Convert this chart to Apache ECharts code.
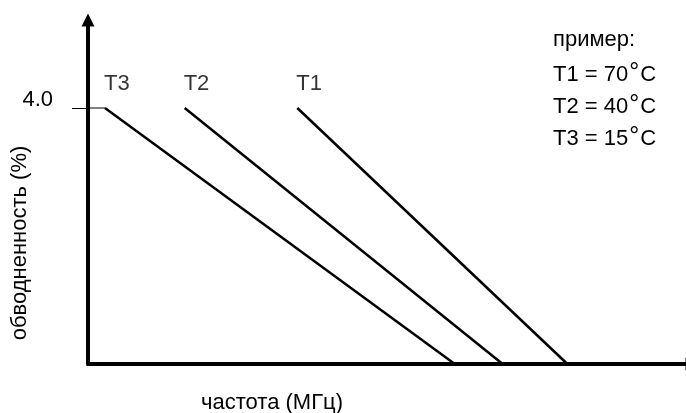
<!DOCTYPE html>
<html>
<head>
<meta charset="utf-8">
<script src="https://cdn.jsdelivr.net/npm/echarts@6/dist/echarts.min.js"></script>
<style>html,body{margin:0;padding:0;background:#fff}#c{width:686px;height:413px}</style>
</head>
<body>
<div id="c"></div>
<script>
// Data (frequency in arbitrary units, water cut %)
var seriesNames = ['T1', 'T2', 'T3'];
var t1Points = [[21.0, 4], [48.1, 0]];
var t2Points = [[9.7, 4], [41.6, 0]];
var t3Points = [[1.7, 4], [36.8, 0]];
var t3Plateau = [[0, 4], [1.7, 4]];
var yTickValues = [4];
var yTickLabels = ['4.0'];
var legendTitle = 'пример:';
var legendNames = ['T1', 'T2', 'T3'];
var legendTemps = ['70', '40', '15'];
var xTitle = 'частота (МГц)';
var yTitle = 'обводненность (%)';

var FONT = 'Liberation Sans, Arial, sans-serif';
var FS = 22;

var chart = echarts.init(document.getElementById('c'), null, {renderer: 'canvas'});

function lineSeries(name, data, width) {
  return {
    name: name, type: 'line', data: data, showSymbol: false, symbol: 'none',
    lineStyle: {color: '#000', width: width}, silent: true, animation: false, z: 3
  };
}

var labelData = [
  {name: 'T3', value: t3Points[0]},
  {name: 'T2', value: t2Points[0]},
  {name: 'T1', value: t1Points[0]}
];

var legendGraphics = [{
  type: 'text', left: 553, top: 29,
  style: {text: legendTitle, font: FS + 'px ' + FONT, fill: '#000'}
}].concat(legendNames.map(function (n, i) {
  return {
    type: 'text', left: 553, top: 61 + i * 32,
    style: {
      text: '{n|' + n + ' = ' + legendTemps[i] + '}{d|°}{n|C}',
      rich: {
        n: {font: FS + 'px ' + FONT, fill: '#000', verticalAlign: 'bottom'},
        d: {font: '25px ' + FONT, fill: '#000', padding: [0, 1, 0, 1], verticalAlign: 'bottom'}
      }
    }
  };
}));

chart.setOption({
  animation: false,
  grid: {left: 88, right: 0, top: 20, bottom: 49, containLabel: false},
  xAxis: {
    type: 'value', min: 0, max: 60,
    axisLine: {show: true, onZero: false, symbol: ['none', 'triangle'], symbolSize: [13, 13],
      symbolOffset: [0, 6], lineStyle: {color: '#000', width: 4}},
    axisTick: {show: false}, axisLabel: {show: false}, splitLine: {show: false}
  },
  yAxis: {
    type: 'value', min: 0, max: 5.375,
    axisLine: {show: true, onZero: false, symbol: ['none', 'triangle'], symbolSize: [13, 13],
      lineStyle: {color: '#000', width: 4}},
    axisTick: {show: true, customValues: yTickValues, length: 16, lineStyle: {color: '#000', width: 1}},
    axisLabel: {show: true, customValues: yTickValues, margin: 35,
      formatter: function (v) { var i = yTickValues.indexOf(v); return i >= 0 ? yTickLabels[i] : ''; },
      color: '#000', fontSize: FS, fontFamily: FONT, verticalAlign: 'bottom', lineHeight: 16},
    splitLine: {show: false}
  },
  series: [
    lineSeries('T1', t1Points, 2.5),
    lineSeries('T2', t2Points, 2.5),
    lineSeries('T3', t3Points, 2.5),
    lineSeries('T3 plateau', t3Plateau, 1),
    {
      type: 'scatter', data: labelData, symbolSize: 0, silent: true, z: 4,
      label: {show: true, formatter: '{b}', position: [0, 0], offset: [-1, -24],
        align: 'left', verticalAlign: 'middle', color: '#000', fontSize: FS, fontFamily: FONT}
    }
  ],
  graphic: legendGraphics.concat([
    {type: 'text', x: 272, y: 403,
      style: {text: xTitle, font: FS + 'px ' + FONT, fill: '#000', align: 'center', verticalAlign: 'middle'}},
    {type: 'text', x: 20, y: 243, rotation: Math.PI / 2,
      style: {text: yTitle, font: FS + 'px ' + FONT, fill: '#000', align: 'center', verticalAlign: 'middle'}}
  ])
});
</script>
</body>
</html>
